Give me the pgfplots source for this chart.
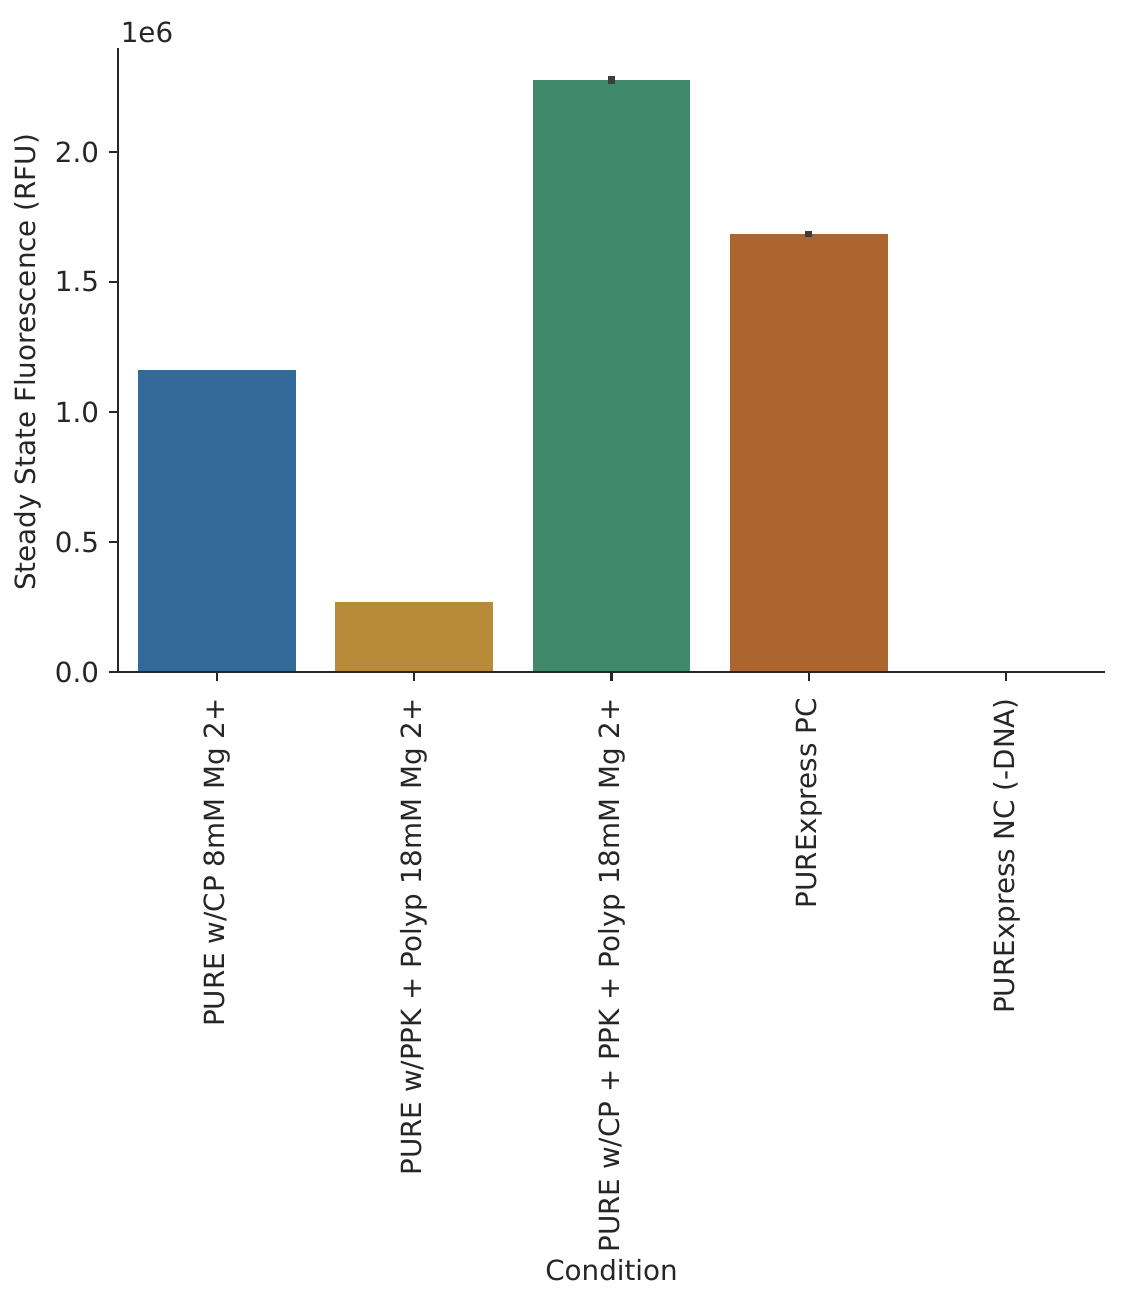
\documentclass[border=0pt]{standalone}
\usepackage{pgfplots}
\pgfplotsset{compat=1.18}
\usepackage{fontspec}
\setmainfont{DejaVu Sans}

\definecolor{cblue}{HTML}{346A99}
\definecolor{cgold}{HTML}{B98A3A}
\definecolor{cgreen}{HTML}{40896B}
\definecolor{corange}{HTML}{AD6530}
\definecolor{axcol}{HTML}{262626}
\definecolor{errcol}{HTML}{3C3C3C}

\newcommand{\lblfont}{\fontsize{11.8pt}{14pt}\selectfont}

\begin{document}
\begin{tikzpicture}
% fixed page: 1130 x 1314 px at 0.425pt/px, axis corner at origin
\path[use as bounding box] (-50.15pt,-272.85pt) rectangle (430.1pt,285.6pt);
\begin{axis}[
  at={(0,0)}, anchor=south west,
  width=419.5pt, height=265.2pt, scale only axis,
  xmin=-0.5, xmax=4.5, ymin=0, ymax=2.4e6,
  axis on top, clip=false,
  axis x line*=bottom, axis y line*=left,
  axis line style={-, draw=axcol, line width=0.9pt},
  tick align=outside, major tick length=4pt,
  tick style={draw=axcol, line width=0.9pt},
  xtick={0,1,2,3,4},
  xticklabels={PURE w/CP 8mM Mg 2+,
               PURE w/PPK + Polyp 18mM Mg 2+,
               PURE w/CP + PPK + Polyp 18mM Mg 2+,
               PURExpress PC,
               PURExpress NC (-DNA)},
  xticklabel style={rotate=90, anchor=east, inner sep=0pt, xshift=-7pt,
                    font=\lblfont, color=axcol},
  ytick={0,0.5e6,1e6,1.5e6,2e6},
  yticklabels={0.0,0.5,1.0,1.5,2.0},
  scaled y ticks=false,
  yticklabel style={font=\lblfont, color=axcol, xshift=-0.5pt},
  xlabel={Condition},
  ylabel={Steady State Fluorescence (RFU)},
  xlabel style={at={(axis description cs:0.5,0)}, anchor=center, yshift=-254.2pt,
                font=\lblfont, color=axcol},
  ylabel style={at={(axis description cs:0,0.5)}, anchor=center, yshift=38.2pt,
                xshift=-1pt, font=\lblfont, color=axcol},
  every axis plot/.append style={ybar, bar width=0.8, bar shift=0pt, draw=none},
]
\addplot[fill=cblue] coordinates {(0,1.1615e6)};
\addplot[fill=cgold] coordinates {(1,0.269e6)};
\addplot[fill=cgreen,
  error bars/.cd, y dir=both, y explicit, error mark=none,
  error bar style={line width=3pt, draw=errcol}]
  coordinates {(2,2.277e6) +- (0,0.015e6)};
\addplot[fill=corange,
  error bars/.cd, y dir=both, y explicit, error mark=none,
  error bar style={line width=3pt, draw=errcol}]
  coordinates {(3,1.685e6) +- (0,0.013e6)};
\addplot[fill=cblue] coordinates {(4,0.003e6)};
\node[anchor=base west, inner sep=0pt, xshift=1pt, yshift=2.5pt,
      font=\lblfont, text=axcol]
  at (rel axis cs:0,1) {1e6};
\end{axis}
\end{tikzpicture}
\end{document}
